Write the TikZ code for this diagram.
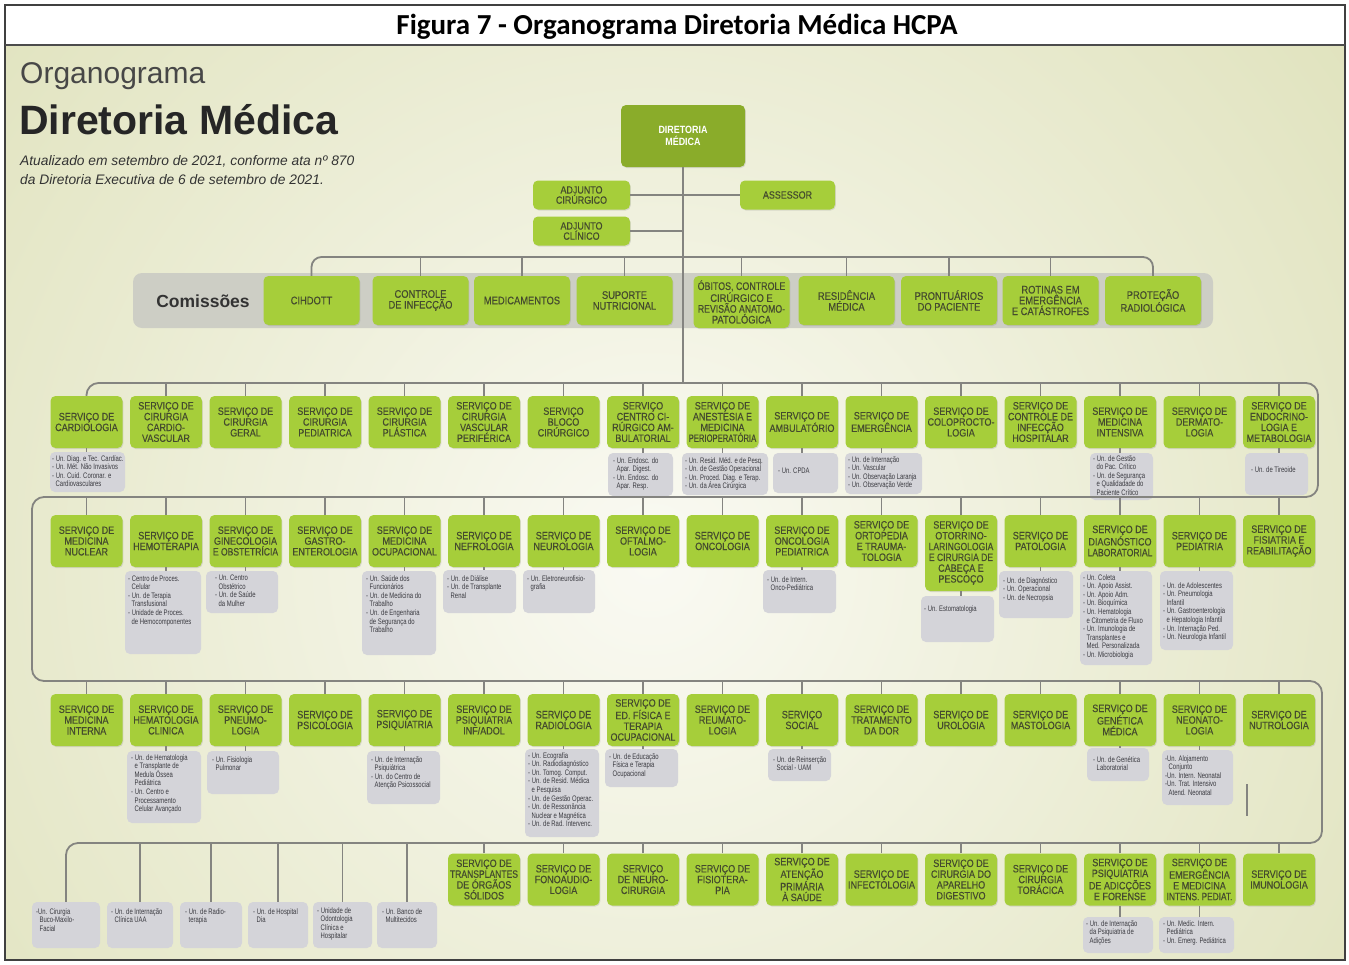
\documentclass[tikz,border=0pt]{standalone}
\usepackage{graphicx}
\usepackage{fontspec}
\setmainfont{Liberation Sans}
\newfontfamily\condfont[FakeStretch=0.85,FakeBold=0.3]{Liberation Sans}
\newfontfamily\dirfont[FakeStretch=0.85]{Liberation Sans}
\newfontfamily\unitfamily[FakeStretch=0.74]{Liberation Sans}
\newfontfamily\capfont{Carlito}
\usetikzlibrary{shadows}

\definecolor{svgreen}{RGB}{166,206,58}
\definecolor{dirgreen}{RGB}{138,172,42}
\definecolor{svtext}{RGB}{68,75,46}
\definecolor{unitfill}{RGB}{212,212,217}
\definecolor{unittext}{RGB}{58,58,64}
\definecolor{linegrey}{RGB}{132,132,128}
\definecolor{bandgrey}{RGB}{205,206,197}
\definecolor{bgin}{RGB}{250,250,243}
\definecolor{bgout}{RGB}{200,205,140}

\newcommand{\svfont}{\condfont\fontsize{10.6}{10.8}\selectfont}
\newcommand{\cmfont}{\condfont\fontsize{11}{10.8}\selectfont}
\newcommand{\unfont}{\unitfamily\fontsize{8}{8.6}\selectfont}
\newcommand{\sqz}[2][0.88]{\scalebox{#1}[1]{#2}}
\newcommand{\ind}{\hspace*{3.5pt}}

\tikzset{
  sv/.style={fill=svgreen, rounded corners=5pt, minimum width=72pt, minimum height=52pt,
    inner sep=0pt, align=center, font=\svfont, text=svtext,
    drop shadow={shadow xshift=0.8pt, shadow yshift=-1pt, opacity=0.22}},
  combox/.style={sv, font=\cmfont, minimum width=96pt, minimum height=49pt},
  ub/.style={fill=unitfill, rounded corners=5pt, inner sep=0pt},
  ut/.style={anchor=north west, inner sep=0pt, align=left, font=\unfont, text=unittext},
  link/.style={draw=linegrey, line width=1.8pt},
  tick/.style={draw=linegrey, line width=1.5pt},
}

% grey unit box: name, left, top, right, bottom, text dx, text dy, text
\newcommand{\unitbox}[8]{%
  \node[ub, minimum width={#4-#2}, minimum height={#5-#3}] (#1) at ({(#2+#4)/2},{(#3+#5)/2}) {};
  \node[ut] (#1t) at ({#2+#6},{#3+#7}) {#8};
}

\begin{document}
\begin{tikzpicture}[x=1pt,y=-1pt]
\useasboundingbox (0,0) rectangle (1349,964);
\fill[white] (0,0) rectangle (1349,964);

% panel background
\begin{scope}
  \clip (5,45) rectangle (1345,960);
  \shade[inner color=bgin, outer color=bgout] (-1050,-1140) rectangle (2350,2260);
\end{scope}
\fill[white] (5,5) rectangle (1345,45);
\draw[line width=1.6pt, draw=black!75] (5,5) rectangle (1345,960);
\draw[line width=2pt, draw=black!70] (5,45) -- (1345,45);

% caption
\node[anchor=base, inner sep=0pt, font=\capfont\bfseries\fontsize{29}{32}\selectfont] (title) at (677,34)
  {Figura 7 - Organograma Diretoria Médica HCPA};

% heading
\node[anchor=base west, inner sep=0pt, text=black!72, font=\fontsize{30}{32}\selectfont] (hd1) at (20,83) {Organograma};
\node[anchor=base west, inner sep=0pt, text=black!85, font=\bfseries\fontsize{41}{44}\selectfont] (hd2) at (19,134) {Diretoria Médica};
\node[anchor=base west, inner sep=0pt, text=black!80, font=\itshape\fontsize{13.8}{16}\selectfont] (hd3) at (20,165)
  {Atualizado em setembro de 2021, conforme ata nº 870};
\node[anchor=base west, inner sep=0pt, text=black!80, font=\itshape\fontsize{13.8}{16}\selectfont] (hd4) at (20,184)
  {da Diretoria Executiva de 6 de setembro de 2021.};

% direction
\node[sv, fill=dirgreen, text=white, minimum width=124pt, minimum height=62pt,
  font=\dirfont\bfseries\fontsize{10.5}{11.5}\selectfont] (dir) at (683,136) {DIRETORIA\\MÉDICA};
\node[sv, minimum width=97pt, minimum height=29pt, font=\condfont\fontsize{10.5}{10.2}\selectfont] (adjcir) at (581.5,195) {ADJUNTO\\CIRÚRGICO};
\node[sv, minimum width=95pt, minimum height=29pt, font=\condfont\fontsize{10.5}{10.2}\selectfont] (ass) at (787.5,195) {ASSESSOR};
\node[sv, minimum width=97pt, minimum height=29pt, font=\condfont\fontsize{10.5}{10.2}\selectfont] (adjcli) at (581.5,231) {ADJUNTO\\CLÍNICO};

% commissions
\node[fill=bandgrey, rounded corners=9pt, minimum width=1080pt, minimum height=55pt, inner sep=0pt] (band) at (673,300.5) {};
\node[inner sep=0pt, text=black!80, font=\bfseries\fontsize{17.5}{20}\selectfont] (comlbl) at (203,301) {Comissões};
\foreach \cx/\nm/\txt in {
  311.5/k1/{CIHDOTT},
  420.5/k2/{CONTROLE\\DE INFECÇÃO},
  522/k3/{MEDICAMENTOS},
  624.5/k4/{SUPORTE\\NUTRICIONAL},
  846.5/k6/{RESIDÊNCIA\\MÉDICA},
  949/k7/{PRONTUÁRIOS\\DO PACIENTE},
  1050.5/k8/{ROTINAS EM\\EMERGÊNCIA\\E CATÁSTROFES},
  1153/k9/{PROTEÇÃO\\RADIOLÓGICA}}
  {\node[combox] (\nm) at (\cx,300.5) {\txt};}
\node[combox, minimum height=52pt] (k5) at (741.5,302)
  {\sqz[0.95]{ÓBITOS, CONTROLE}\\CIRÚRGICO E\\\sqz[0.93]{REVISÃO ANATOMO-}\\PATOLÓGICA};

% services, first row
\foreach \i/\txt in {
  0/{SERVIÇO DE\\CARDIOLOGIA},
  1/{SERVIÇO DE\\CIRURGIA\\CARDIO-\\VASCULAR},
  2/{SERVIÇO DE\\CIRURGIA\\GERAL},
  3/{SERVIÇO DE\\CIRURGIA\\PEDIATRICA},
  4/{SERVIÇO DE\\CIRURGIA\\PLÁSTICA},
  5/{SERVIÇO DE\\CIRURGIA\\VASCULAR\\PERIFÉRICA},
  6/{SERVIÇO\\BLOCO\\CIRÚRGICO},
  7/{SERVIÇO\\CENTRO CI-\\RÚRGICO AM-\\BULATORIAL},
  8/{SERVIÇO DE\\ANESTESIA E\\MEDICINA\\\sqz[0.85]{PERIOPERATÓRIA}},
  9/{SERVIÇO DE\\AMBULATÓRIO},
  10/{SERVIÇO DE\\EMERGÊNCIA},
  11/{SERVIÇO DE\\COLOPROCTO-\\LOGIA},
  12/{SERVIÇO DE\\CONTROLE DE\\INFECÇÃO\\HOSPITALAR},
  13/{SERVIÇO DE\\MEDICINA\\INTENSIVA},
  14/{SERVIÇO DE\\DERMATO-\\LOGIA},
  15/{SERVIÇO DE\\ENDOCRINO-\\LOGIA E\\METABOLOGIA}}
  {\node[sv] (a\i) at ({86.5+79.5*\i},422) {\txt};}

% services, second row
\foreach \i/\txt in {
  0/{SERVIÇO DE\\MEDICINA\\NUCLEAR},
  1/{SERVIÇO DE\\HEMOTERAPIA},
  2/{SERVIÇO DE\\GINECOLOGIA\\\sqz[0.95]{E OBSTETRÍCIA}},
  3/{SERVIÇO DE\\GASTRO-\\ENTEROLOGIA},
  4/{SERVIÇO DE\\MEDICINA\\OCUPACIONAL},
  5/{SERVIÇO DE\\NEFROLOGIA},
  6/{SERVIÇO DE\\NEUROLOGIA},
  7/{SERVIÇO DE\\OFTALMO-\\LOGIA},
  8/{SERVIÇO DE\\ONCOLOGIA},
  9/{SERVIÇO DE\\ONCOLOGIA\\PEDIATRICA},
  10/{SERVIÇO DE\\ORTOPEDIA\\E TRAUMA-\\TOLOGIA},
  12/{SERVIÇO DE\\PATOLOGIA},
  13/{SERVIÇO DE\\DIAGNÓSTICO\\\sqz[0.95]{LABORATORIAL}},
  14/{SERVIÇO DE\\PEDIATRIA},
  15/{SERVIÇO DE\\FISIATRIA E\\REABILITAÇÃO}}
  {\node[sv] (b\i) at ({86.5+79.5*\i},541) {\txt};}
\node[sv, minimum height=76pt] (b11) at ({86.5+79.5*11},553)
  {SERVIÇO DE\\OTORRINO-\\\sqz[0.95]{LARINGOLOGIA}\\\sqz[0.95]{E CIRURGIA DE}\\CABEÇA E\\PESCOÇO};

% services, third row
\foreach \i/\txt in {
  0/{SERVIÇO DE\\MEDICINA\\INTERNA},
  1/{SERVIÇO DE\\HEMATOLOGIA\\CLINICA},
  2/{SERVIÇO DE\\PNEUMO-\\LOGIA},
  3/{SERVIÇO DE\\PSICOLOGIA},
  4/{SERVIÇO DE\\PSIQUIATRIA},
  5/{SERVIÇO DE\\PSIQUIATRIA\\INF/ADOL},
  6/{SERVIÇO DE\\RADIOLOGIA},
  7/{SERVIÇO DE\\ED. FÍSICA E\\TERAPIA\\OCUPACIONAL},
  8/{SERVIÇO DE\\REUMATO-\\LOGIA},
  9/{SERVIÇO\\SOCIAL},
  10/{SERVIÇO DE\\TRATAMENTO\\DA DOR},
  11/{SERVIÇO DE\\UROLOGIA},
  12/{SERVIÇO DE\\MASTOLOGIA},
  13/{SERVIÇO DE\\GENÉTICA\\MÉDICA},
  14/{SERVIÇO DE\\NEONATO-\\LOGIA},
  15/{SERVIÇO DE\\NUTROLOGIA}}
  {\node[sv] (c\i) at ({86.5+79.5*\i},720) {\txt};}

% services, last row
\foreach \i/\txt in {
  5/{SERVIÇO DE\\\sqz[0.95]{TRANSPLANTES}\\DE ÓRGÃOS\\SÓLIDOS},
  6/{SERVIÇO DE\\FONOAUDIO-\\LOGIA},
  7/{SERVIÇO\\DE NEURO-\\CIRURGIA},
  8/{SERVIÇO DE\\FISIOTERA-\\PIA},
  9/{SERVIÇO DE\\ATENÇÃO\\PRIMÁRIA\\À SAÚDE},
  10/{SERVIÇO DE\\INFECTOLOGIA},
  11/{SERVIÇO DE\\CIRURGIA DO\\APARELHO\\DIGESTIVO},
  12/{SERVIÇO DE\\CIRURGIA\\TORÁCICA},
  13/{SERVIÇO DE\\PSIQUIATRIA\\DE ADICÇÕES\\E FORENSE},
  14/{SERVIÇO DE\\EMERGÊNCIA\\E MEDICINA\\\sqz[0.92]{INTENS. PEDIAT.}},
  15/{SERVIÇO DE\\IMUNOLOGIA}}
  {\node[sv] (d\i) at ({86.5+79.5*\i},879.5) {\txt};}

% units, first row
\unitbox{ua0}{50}{452}{125}{492}{2}{3}{- Un. Diag. e Tec. Cardíac.\\- Un. Mét. Não Invasivos\\- Un. Cuid. Coronar. e\\\ind Cardiovasculares}
\unitbox{ua7}{608}{453}{673}{496}{5}{4}{- Un. Endosc. do\\\ind Apar. Digest.\\- Un. Endosc. do\\\ind Apar. Resp.}
\unitbox{ua8}{682}{453}{768}{495}{3}{4}{- Un. Resid. Méd. e de Pesq.\\- Un. de Gestão Operacional\\- Un. Proced. Diag. e Terap.\\- Un. da Área Cirúrgica}
\unitbox{ua9}{773}{453}{838}{493}{5}{15}{- Un. CPDA}
\unitbox{ua10}{845}{453}{922}{494}{3}{3}{- Un. de Internação\\- Un. Vascular\\- Un. Observação Laranja\\- Un. Observação Verde}
\unitbox{ua13}{1090}{453}{1153}{500}{3}{2}{- Un. de Gestão\\\ind do Pac. Crítico\\- Un. de Segurança\\\ind e Qualidadade do\\\ind Paciente Crítico}
\unitbox{ua15}{1245}{453}{1308}{495}{6}{13}{- Un. de Tireoide}

% units, second row
\unitbox{ub1}{125}{571}{201}{654}{3}{4}{- Centro de Proces.\\\ind Celular\\- Un. de Terapia\\\ind Transfusional\\- Unidade de Proces.\\\ind de Hemocomponentes}
\unitbox{ub2}{206}{571}{278}{613}{9}{4}{- Un. Centro\\\ind Obstétrico\\- Un. de Saúde\\\ind da Mulher}
\unitbox{ub4}{362}{571}{436}{655}{4}{4}{- Un. Saúde dos\\\ind Funcionários\\- Un. de Medicina do\\\ind Trabalho\\- Un. de Engenharia\\\ind de Segurança do\\\ind Trabalho}
\unitbox{ub5}{443}{570}{516}{613}{4}{5}{- Un. de Diálise\\- Un. de Transplante\\\ind Renal}
\unitbox{ub6}{523}{570}{595}{613}{4}{5}{- Un. Eletroneurofisio-\\\ind grafia}
\unitbox{ub9}{763}{570}{836}{613}{4}{6}{- Un. de Intern.\\\ind Onco-Pediátrica}
\unitbox{ub11}{921}{596}{994}{642}{3}{9}{- Un. Estomatologia}
\unitbox{ub12}{999}{571}{1073}{618}{4}{6}{- Un. de Diagnóstico\\- Un. Operacional\\- Un. de Necropsia}
\unitbox{ub13}{1080}{571}{1152}{665}{3}{3}{- Un. Coleta\\- Un. Apoio Assist.\\- Un. Apoio Adm.\\- Un. Bioquímica\\- Un. Hematologia\\\ind e Citometria de Fluxo\\- Un. Imunologia de\\\ind Transplantes e\\\ind Med. Personalizada\\- Un. Microbiologia}
\unitbox{ub14}{1160}{571}{1233}{650}{3}{11}{- Un. de Adolescentes\\- Un. Pneumologia\\\ind Infantil\\- Un. Gastroenterologia\\\ind e Hepatologia Infantil\\- Un. Internação Ped.\\- Un. Neurologia Infantil}

% units, third row
\unitbox{uc1}{127}{751}{201}{823}{4}{3}{- Un. de Hematologia\\\ind e Transplante de\\\ind Medula Óssea\\\ind Pediátrica\\- Un. Centro e\\\ind Processamento\\\ind Celular Avançado}
\unitbox{uc2}{207}{751}{279}{794}{5}{5}{- Un. Fisiologia\\\ind Pulmonar}
\unitbox{uc4}{367}{751}{440}{804}{4}{5}{- Un. de Internação\\\ind Psiquiátrica\\- Un. do Centro de\\\ind Atenção Psicossocial}
\unitbox{uc6}{525}{749}{599}{837}{3}{3}{- Un. Ecografia\\- Un. Radiodiagnóstico\\- Un. Tomog. Comput.\\- Un. de Resid. Médica\\\ind e Pesquisa\\- Un. de Gestão Operac.\\- Un. de Ressonância\\\ind Nuclear e Magnética\\- Un. de Rad. Intervenc.}
\unitbox{uc7}{605}{749}{678}{787}{4}{4}{- Un. de Educação\\\ind Física e Terapia\\\ind Ocupacional}
\unitbox{uc9}{768}{749}{831}{781}{5}{7}{- Un. de Reinserção\\\ind Social - UAM}
\unitbox{uc13}{1087}{748}{1149}{781}{6}{8}{- Un. de Genética\\\ind Laboratorial}
\unitbox{uc14}{1162}{750}{1233}{805}{3}{5}{-Un. Alojamento\\\ind Conjunto\\-Un. Intern. Neonatal\\-Un. Trat. Intensivo\\\ind Atend. Neonatal}

% units, last row
\unitbox{ue1}{32}{902}{100}{948}{4}{6}{-Un. Cirurgia\\\ind Buco-Maxilo-\\\ind Facial}
\unitbox{ue2}{107}{902}{173}{948}{4}{6}{- Un. de Internação\\\ind Clínica UAA}
\unitbox{ue3}{180}{902}{242}{948}{5}{6}{- Un. de Radio-\\\ind terapia}
\unitbox{ue4}{248}{902}{308}{948}{5}{6}{- Un. de Hospital\\\ind Dia}
\unitbox{ue5}{313}{902}{372}{948}{4}{5}{- Unidade de\\\ind Odontologia\\\ind Clínica e\\\ind Hospitalar}
\unitbox{ue6}{377}{902}{437}{948}{5}{6}{- Un. Banco de\\\ind Multitecidos}
\unitbox{ud13}{1083}{917}{1153}{953}{3}{3}{- Un. de Internação\\\ind da Psiquiatria de\\\ind Adições}
\unitbox{ud14}{1159}{917}{1234}{953}{4}{3}{- Un. Medic. Intern.\\\ind Pediátrica\\- Un. Emerg. Pediátrica}

% bus levels
\coordinate (cl) at (0,257);
\coordinate (r1) at (0,383);
\coordinate (r2) at (0,497);
\coordinate (r3) at (0,681);
\coordinate (r4) at (0,843);
\coordinate (e1) at (1318,383);
\coordinate (w2) at (32,497);
\coordinate (e3) at (1322,681);
\coordinate (sx1) at (1247,784);
\coordinate (sx2) at (1247,816);

% direction links
\draw[link] (dir.south) -- (dir.south |- r1);
\draw[link, line width=2.4pt] (adjcir.east) -- (ass.west);
\draw[link, line width=2.4pt] (adjcli.east) -- (adjcli.east -| dir.south);

% commission links
\draw[link, rounded corners=10pt] (k1.north) |- (k9.north |- cl) -- (k9.north);
\foreach \n in {k2,k3,k4,k5,k6,k7,k8}
  \draw[tick] (\n.north) -- (\n.north |- cl);

% winding bus through the service rows
\draw[link, rounded corners=12pt] (a0.north) |- (e1) |- (w2) |- (e3) |- (ue1.north |- r4) -- (ue1.north);
\foreach \i in {1,...,15} {
  \draw[tick] (a\i.north) -- (a\i.north |- r1);
  \draw[tick] (b\i.north) -- (b\i.north |- r2);
  \draw[tick] (c\i.north) -- (c\i.north |- r3);
}
\draw[tick] (b0.north) -- (b0.north |- r2);
\draw[tick] (c0.north) -- (c0.north |- r3);
\foreach \i in {5,...,15}
  \draw[tick] (d\i.north) -- (d\i.north |- r4);
\foreach \n in {ue2,ue3,ue4,ue5,ue6}
  \draw[tick] (\n.north) -- (\n.north |- r4);

% service to unit links
\foreach \s/\u in {a0/ua0,a7/ua7,a8/ua8,a9/ua9,a10/ua10,a13/ua13,a15/ua15,
                  b1/ub1,b2/ub2,b4/ub4,b5/ub5,b6/ub6,b9/ub9,b11/ub11,b12/ub12,b13/ub13,b14/ub14,
                  c1/uc1,c2/uc2,c4/uc4,c6/uc6,c7/uc7,c9/uc9,c13/uc13,c14/uc14,
                  d13/ud13,d14/ud14}
  \draw[tick, line width=1.3pt] (\s.south) -- (\s.south |- \u.north);
\draw[tick] (sx1) -- (sx2);
\end{tikzpicture}
\end{document}
